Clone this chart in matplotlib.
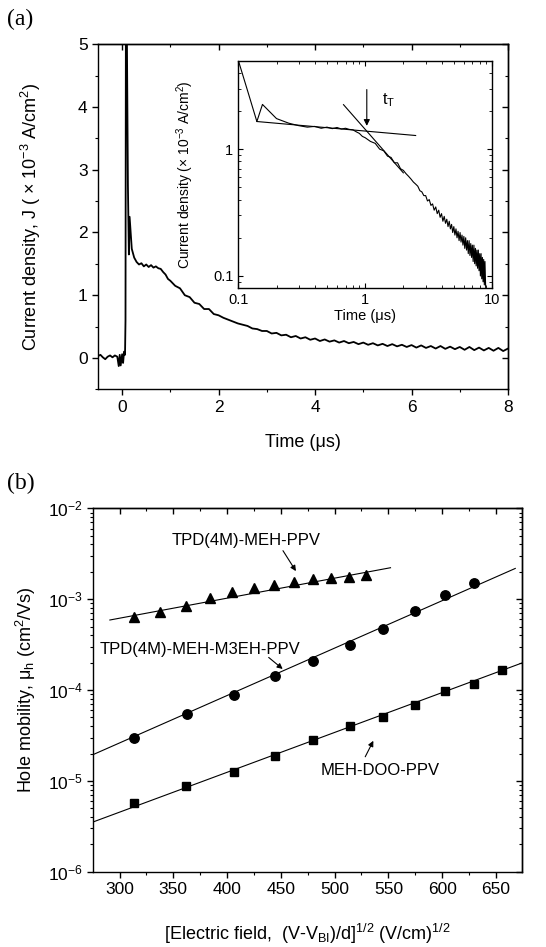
import matplotlib
matplotlib.use("Agg")
import matplotlib.pyplot as plt
from matplotlib.ticker import MultipleLocator, LogLocator, NullFormatter, FixedLocator, FixedFormatter

plt.rcParams["font.family"] = ["Liberation Sans", "DejaVu Sans"]
plt.rcParams["mathtext.fontset"] = "custom"
plt.rcParams["mathtext.rm"] = "Liberation Sans"
plt.rcParams["mathtext.it"] = "Liberation Sans:italic"
plt.rcParams["axes.linewidth"] = 1.0

# (a) transient photocurrent
time_us = [
    -0.50, -0.45, -0.40, -0.35, -0.30, -0.25, -0.20, -0.15, -0.10, -0.07, -0.05,
    -0.03, 0.00, 0.02, 0.04, 0.06, 0.07, 0.08, 0.09, 0.10, 0.12, 0.14, 0.155,
    0.20, 0.25, 0.30, 0.35, 0.40, 0.45, 0.50, 0.55, 0.60, 0.65, 0.70, 0.75,
    0.80, 0.85, 0.90, 0.95, 1.00, 1.10, 1.20, 1.30, 1.40, 1.50, 1.60, 1.70,
    1.80, 1.90, 2.00, 2.10, 2.20, 2.30, 2.40, 2.50, 2.60, 2.70, 2.80, 2.90,
    3.00, 3.10, 3.20, 3.30, 3.40, 3.50, 3.60, 3.70, 3.80, 3.90, 4.00, 4.10,
    4.20, 4.30, 4.40, 4.50, 4.60, 4.70, 4.80, 4.90, 5.00, 5.10, 5.20, 5.30,
    5.40, 5.50, 5.60, 5.70, 5.80, 5.90, 6.00, 6.10, 6.20, 6.30, 6.40, 6.50,
    6.60, 6.70, 6.80, 6.90, 7.00, 7.10, 7.20, 7.30, 7.40, 7.50, 7.60, 7.70,
    7.80, 7.90, 8.00, 8.10, 8.20, 8.30, 8.40, 8.50, 8.60, 8.70, 8.80, 8.90,
    9.00,
]
current = [
    0.03, 0.05, 0.01, -0.02, 0.02, 0.04, 0.01, 0.04, 0.02, -0.13, 0.05,
    -0.12, 0.06, -0.08, 0.10, 0.05, 0.60, 6.50, 7.00, 5.00, 2.75, 1.65, 2.25,
    1.74, 1.60, 1.53, 1.49, 1.51, 1.46, 1.49, 1.45, 1.48, 1.44, 1.46, 1.43,
    1.42, 1.37, 1.33, 1.26, 1.23, 1.15, 1.11, 1.00, 0.97, 0.88, 0.86, 0.78,
    0.78, 0.70, 0.68, 0.64, 0.61, 0.58, 0.55, 0.53, 0.51, 0.47, 0.46, 0.43,
    0.43, 0.39, 0.40, 0.36, 0.37, 0.33, 0.35, 0.31, 0.33, 0.29, 0.31, 0.27,
    0.295, 0.26, 0.28, 0.245, 0.27, 0.235, 0.255, 0.22, 0.245, 0.21, 0.235, 0.20,
    0.225, 0.19, 0.22, 0.185, 0.21, 0.175, 0.205, 0.165, 0.20, 0.16, 0.19, 0.15,
    0.19, 0.145, 0.18, 0.14, 0.175, 0.13, 0.175, 0.125, 0.165, 0.12, 0.16, 0.115,
    0.16, 0.11, 0.15, 0.10, 0.15, 0.095, 0.14, 0.09, 0.135, 0.085, 0.13, 0.085,
    0.07,
]

# inset asymptotes and transit time
flat_fit_t = [0.14, 2.5]
flat_fit_j = [1.65, 1.28]
steep_fit_t = [0.675, 2.0]
steep_fit_j = [2.24, 0.65]
transit_time = 1.03

# (b) hole mobility vs sqrt(field)
field_tri = [313, 338, 362, 384, 405, 425, 444, 462, 480, 497, 513, 529]
mob_tri = [6.4e-4, 7.2e-4, 8.4e-4, 1.04e-3, 1.19e-3, 1.32e-3, 1.42e-3,
           1.56e-3, 1.67e-3, 1.69e-3, 1.75e-3, 1.85e-3]
field_circ = [313, 363, 406, 445, 480, 514, 545, 575, 603, 630]
mob_circ = [3.0e-5, 5.5e-5, 8.8e-5, 1.43e-4, 2.09e-4, 3.16e-4, 4.7e-4,
            7.4e-4, 1.11e-3, 1.52e-3]
field_sq = [313, 362, 406, 445, 480, 514, 545, 575, 603, 630, 656]
mob_sq = [5.75e-6, 8.85e-6, 1.26e-5, 1.89e-5, 2.82e-5, 4.05e-5, 5.05e-5,
          6.9e-5, 9.8e-5, 1.18e-4, 1.66e-4]

fit_tri_x, fit_tri_y = [291, 552], [5.9e-4, 2.22e-3]
fit_circ_x, fit_circ_y = [276, 668], [1.96e-5, 2.18e-3]
fit_sq_x, fit_sq_y = [276, 674], [3.55e-6, 1.98e-4]


def mirror_ticks(ax, xmajor, xminor, ylog=False, ymajor=None, yminor=None):
    ax.tick_params(which="both", direction="out", top=False, right=False, labelsize=12.5)
    ax.tick_params(which="major", length=4, width=1)
    ax.tick_params(which="minor", length=2.5, width=0.8)
    top = ax.secondary_xaxis("top")
    top.xaxis.set_major_locator(MultipleLocator(xmajor))
    top.xaxis.set_minor_locator(MultipleLocator(xminor))
    top.tick_params(which="both", direction="in", labeltop=False)
    top.tick_params(which="major", length=4, width=1)
    top.tick_params(which="minor", length=2.5, width=0.8)
    right = ax.secondary_yaxis("right")
    if ylog:
        right.yaxis.set_major_locator(LogLocator(base=10))
        right.yaxis.set_minor_locator(LogLocator(base=10, subs=range(2, 10)))
    else:
        right.yaxis.set_major_locator(MultipleLocator(ymajor))
        right.yaxis.set_minor_locator(MultipleLocator(yminor))
    right.yaxis.set_major_formatter(NullFormatter())
    right.yaxis.set_minor_formatter(NullFormatter())
    right.tick_params(which="both", direction="in", labelright=False)
    right.tick_params(which="major", length=4, width=1)
    right.tick_params(which="minor", length=2.5, width=0.8)


fig = plt.figure(figsize=(5.46, 9.47), dpi=100)

# ---- panel (a)
ax_a = fig.add_axes([0.1795, 0.5889, 0.7509, 0.3643])
ax_a.plot(time_us, current, color="black", lw=1.3)
ax_a.set_xlim(-0.5, 8)
ax_a.set_ylim(-0.5, 5)
ax_a.xaxis.set_major_locator(MultipleLocator(2))
ax_a.xaxis.set_minor_locator(MultipleLocator(1))
ax_a.yaxis.set_major_locator(MultipleLocator(1))
ax_a.yaxis.set_minor_locator(MultipleLocator(0.5))
mirror_ticks(ax_a, 2, 1, ymajor=1, yminor=0.5)
ax_a.set_xlabel("Time (\u03bcs)", fontsize=13)
ax_a.set_ylabel("Current density, J ( \u00d7 10$^{-3}$ A/cm$^{2}$)", fontsize=13)
ax_a.xaxis.set_label_coords(0.5, -0.13)
ax_a.yaxis.set_label_coords(-0.135, 0.5)

# inset
ax_in = fig.add_axes([0.4365, 0.6956, 0.4646, 0.2400])
ax_in.set_facecolor("white")
ax_in.loglog(time_us, current, color="black", lw=0.8)
ax_in.plot(flat_fit_t, flat_fit_j, color="black", lw=0.8)
ax_in.plot(steep_fit_t, steep_fit_j, color="black", lw=0.8)
ax_in.set_xlim(0.1, 10)
ax_in.set_ylim(0.08, 4.95)
ax_in.xaxis.set_major_locator(FixedLocator([0.1, 1, 10]))
ax_in.xaxis.set_major_formatter(FixedFormatter(["0.1", "1", "10"]))
ax_in.yaxis.set_major_locator(FixedLocator([0.1, 1]))
ax_in.yaxis.set_major_formatter(FixedFormatter(["0.1", "1"]))
ax_in.xaxis.set_minor_formatter(NullFormatter())
ax_in.yaxis.set_minor_formatter(NullFormatter())
ax_in.tick_params(which="both", direction="in", top=True, right=True, labelsize=10.5)
ax_in.tick_params(which="major", length=3.5, width=0.8)
ax_in.tick_params(which="minor", length=2, width=0.6)
ax_in.annotate("", xy=(transit_time, 1.45), xytext=(transit_time, 3.1),
               arrowprops=dict(arrowstyle="-|>", color="black", lw=0.8, mutation_scale=9))
ax_in.text(1.36, 2.45, "t$_\\mathrm{T}$", fontsize=11.5, va="center")
ax_in.set_xlabel("Time (\u03bcs)", fontsize=10.5)
ax_in.set_ylabel("Current density (\u00d7 10$^{-3}$ A/cm$^{2}$)", fontsize=10)
ax_in.xaxis.set_label_coords(0.5, -0.09)
ax_in.yaxis.set_label_coords(-0.165, 0.5)

# ---- panel (b)
ax_b = fig.add_axes([0.1709, 0.0795, 0.7846, 0.3837])
ax_b.set_yscale("log")
ax_b.plot(fit_tri_x, fit_tri_y, color="black", lw=0.8)
ax_b.plot(fit_circ_x, fit_circ_y, color="black", lw=0.8)
ax_b.plot(fit_sq_x, fit_sq_y, color="black", lw=0.8)
ax_b.plot(field_tri, mob_tri, "^", color="black", ms=7.5)
ax_b.plot(field_circ, mob_circ, "o", color="black", ms=6.8)
ax_b.plot(field_sq, mob_sq, "s", color="black", ms=6)
ax_b.set_xlim(275.6, 674)
ax_b.set_ylim(1e-6, 1e-2)
ax_b.xaxis.set_major_locator(MultipleLocator(50))
ax_b.xaxis.set_minor_locator(MultipleLocator(25))
ax_b.yaxis.set_major_locator(LogLocator(base=10))
ax_b.yaxis.set_minor_locator(LogLocator(base=10, subs=range(2, 10)))
ax_b.yaxis.set_minor_formatter(NullFormatter())
mirror_ticks(ax_b, 50, 25, ylog=True)

arrow_kw = dict(arrowstyle="-|>", color="black", lw=0.8, mutation_scale=8)
ax_b.text(418, 4.48e-3, "TPD(4M)-MEH-PPV", fontsize=12, ha="center", va="center")
ax_b.annotate("", xy=(465.4, 1.92e-3), xytext=(450.6, 3.63e-3), arrowprops=arrow_kw)
ax_b.text(375, 2.82e-4, "TPD(4M)-MEH-M3EH-PPV", fontsize=12, ha="center", va="center")
ax_b.annotate("", xy=(453.7, 1.63e-4), xytext=(436.7, 2.39e-4), arrowprops=arrow_kw)
ax_b.text(542.7, 1.29e-5, "MEH-DOO-PPV", fontsize=12, ha="center", va="center")
ax_b.annotate("", xy=(537.2, 2.94e-5), xytext=(527.3, 1.73e-5), arrowprops=arrow_kw)

ax_b.set_xlabel("[Electric field,  (V-V$_\\mathrm{BI}$)/d]$^{1/2}$ (V/cm)$^{1/2}$", fontsize=13)
ax_b.set_ylabel("Hole mobility, \u03bc$_\\mathrm{h}$ (cm$^{2}$/Vs)", fontsize=13)
ax_b.xaxis.set_label_coords(0.5, -0.138)
ax_b.yaxis.set_label_coords(-0.13, 0.5)

fig.text(0.013, 0.979, "(a)", family="Liberation Serif", fontsize=17, va="center")
fig.text(0.013, 0.489, "(b)", family="Liberation Serif", fontsize=17, va="center")

fig.savefig("out.png", dpi=100)
